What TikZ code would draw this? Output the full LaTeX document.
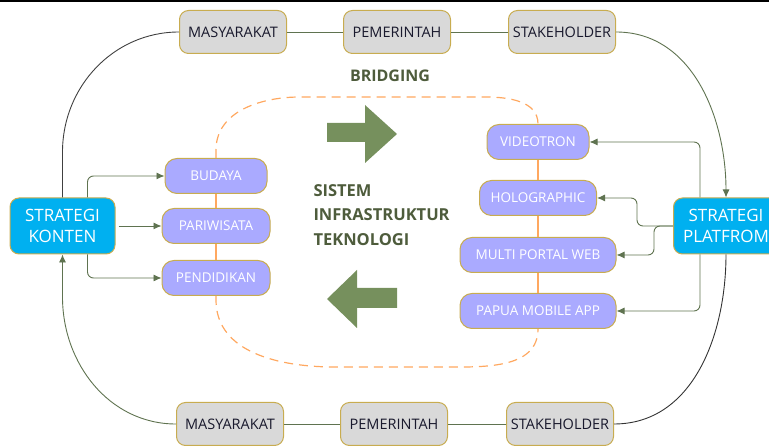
\documentclass[tikz,border=0pt]{standalone}
\usepackage{fontspec}
\setmainfont{Open Sans}
\usetikzlibrary{arrows.meta}

\definecolor{abu}{RGB}{217,217,217}
\definecolor{emas}{RGB}{200,172,80}
\definecolor{ungu}{RGB}{170,170,255}
\definecolor{biru}{RGB}{0,176,240}
\definecolor{garis}{RGB}{95,115,80}
\definecolor{oranye}{RGB}{255,168,96}
\definecolor{hijau}{RGB}{118,144,93}
\definecolor{judul}{RGB}{78,92,60}
\definecolor{gelap}{RGB}{25,25,45}

\begin{document}
\begin{tikzpicture}[x=1pt,y=1pt,
  pihak/.style={rectangle,rounded corners=9pt,draw=emas,line width=1pt,fill=abu,
    minimum width=107pt,minimum height=43pt,text=gelap,font=\fontsize{14.5}{16}\selectfont},
  media/.style={rectangle,rounded corners=12pt,draw=emas,line width=1pt,fill=ungu,
    minimum height=35pt,text=white,font=\fontsize{13.5}{15}\selectfont},
  strategi/.style={rectangle,rounded corners=9pt,draw=emas,line width=1pt,fill=biru,
    minimum width=105pt,minimum height=56pt,text=white,align=center,
    font=\fontsize{17}{21}\selectfont},
  hubung/.style={draw=garis,line width=0.9pt},
  panah/.style={hubung,-{Latex[length=8pt,width=7pt]}},
  jalur/.style={draw=oranye,line width=1.2pt}]
  \useasboundingbox (0,0) rectangle (769,447);
  \clip (0,0) rectangle (769,447);
  \fill[black] (0,445) rectangle (769,447);

  % pihak atas dan bawah
  \node[pihak] (m1) at (233,415) {MASYARAKAT};
  \node[pihak] (p1) at (397,415) {PEMERINTAH};
  \node[pihak] (s1) at (562,415) {STAKEHOLDER};
  \draw[hubung] (m1) to (p1);
  \draw[hubung] (p1) to (s1);

  \node[pihak] (m2) at (230,23) {MASYARAKAT};
  \node[pihak] (p2) at (394,23) {PEMERINTAH};
  \node[pihak] (s2) at (560,23) {STAKEHOLDER};
  \draw[hubung] (m2) to (p2);
  \draw[hubung] (p2) to (s2);

  % strategi
  \node[strategi] (konten) at (62.5,221) {STRATEGI\\KONTEN};
  \node[strategi] (platform) at (726,221) {STRATEGI\\PLATFROM};

  % konten
  \node[media,minimum width=102pt] (budaya) at (216,271) {BUDAYA};
  \node[media,minimum width=108pt] (wisata) at (216,221) {PARIWISATA};
  \node[media,minimum width=108pt] (didik) at (216,169) {PENDIDIKAN};

  % platform
  \node[media,minimum width=102pt] (video) at (538,305) {VIDEOTRON};
  \node[media,minimum width=117pt] (holo) at (538,249) {HOLOGRAPHIC};
  \node[media,minimum width=156pt] (web) at (538,192) {MULTI PORTAL WEB};
  \node[media,minimum width=156pt] (app) at (538,136) {PAPUA MOBILE APP};

  % jalur bridging
  \draw[jalur] (budaya) to (wisata);
  \draw[jalur] (wisata) to (didik);
  \draw[jalur] (video) to (holo);
  \draw[jalur] (holo) to (web);
  \draw[jalur] (web) to (app);
  \draw[jalur,dash pattern=on 9pt off 6pt]
    (budaya.north) -- (216,297) to[out=90,in=180] (300,350) -- (485,350)
    to[out=0,in=90] (video.north);
  \draw[jalur,dash pattern=on 9pt off 6pt]
    (didik.south) -- (216,147) to[out=-90,in=180] (335,80) -- (440,80)
    to[out=0,in=-90] (app.south);

  \node[text=judul,font=\bfseries\fontsize{16}{18}\selectfont] (bridging) at (390,371) {BRIDGING};
  \node[text=judul,font=\bfseries\fontsize{16.5}{24.5}\selectfont,align=left,anchor=west]
    (sistem) at (310,232) {SISTEM\\INFRASTRUKTUR\\TEKNOLOGI};

  % panah besar
  \fill[hijau] (327,324) -- (365,324) -- (365,342) -- (397,313) -- (365,284)
    -- (365,305) -- (327,305) -- cycle;
  \fill[hijau] (397,159) -- (357,159) -- (357,177) -- (327,148) -- (357,119)
    -- (357,139) -- (397,139) -- cycle;

  % konten ke media
  \draw[panah,rounded corners=6pt] ([xshift=25pt]konten.north) |- (budaya.west);
  \draw[panah] ([xshift=3pt]konten.east) to (wisata.west);
  \draw[panah,rounded corners=6pt] ([xshift=25pt]konten.south) |- (didik.west);

  % platform ke media
  \draw[panah,rounded corners=6pt] ([xshift=-26pt]platform.north) |- (video.east);
  \draw[panah,rounded corners=6pt] (platform.west) -| (637,249) -- (holo.east);
  \draw[panah,rounded corners=6pt] (platform.west) -| (654,192) -- (web.east);
  \draw[panah,rounded corners=6pt] ([xshift=-26pt]platform.south) |- (app.east);

  % lingkar luar
  \draw[hubung,draw=black!75] (m1.west) to[out=180,in=90] (62.5,295) -- (konten.north);
  \draw[panah] (m2.west) to[out=180,in=-90] (62.5,150) -- (konten.south);
  \draw[panah] (s1.east) to[out=0,in=90] (platform.north);
  \draw[hubung,draw=black!80] (platform.south) to[out=-90,in=0] (s2.east);
\end{tikzpicture}
\end{document}
